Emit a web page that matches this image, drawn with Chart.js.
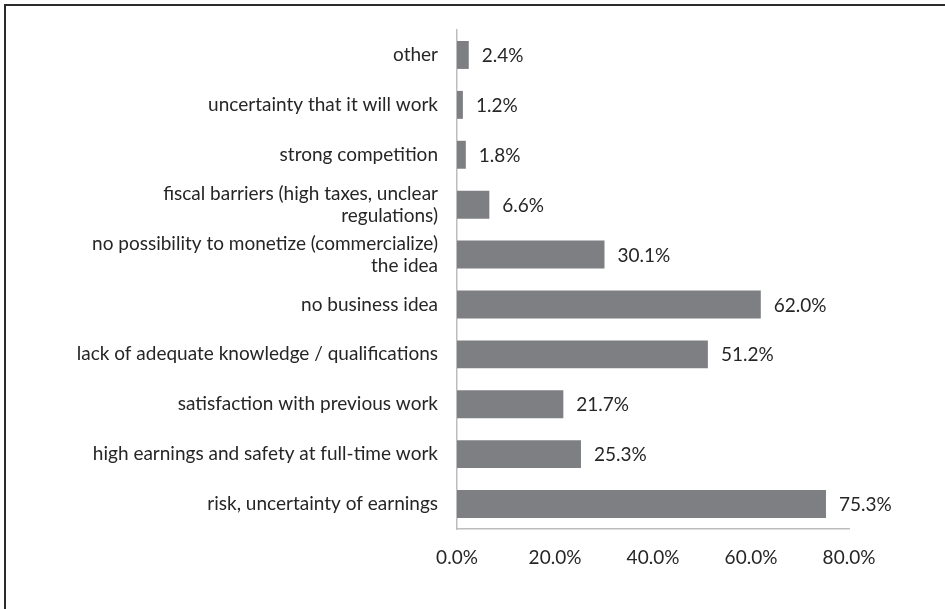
<!DOCTYPE html>
<html>
<head>
<meta charset="utf-8">
<script src="https://cdn.jsdelivr.net/npm/chart.js@4"></script>
<style>
    html, body { margin: 0; padding: 0; background: #fff; }
    #wrap { position: relative; width: 945px; height: 609px; }
    #frame {
        position: absolute; left: 4px; top: 4px; right: 0; bottom: 0;
        border-top: 2px solid #2b2b2b; border-left: 2px solid #2b2b2b;
    }
    #reasonsChart { position: absolute; left: 0; top: 0; }
</style>
</head>
<body>
<div id="wrap">
    <div id="frame"></div>
    <canvas id="reasonsChart" width="945" height="609"></canvas>
</div>
<script>
// Reasons for not starting a business (share of respondents, %)
const reasons = [
    'other',
    'uncertainty that it will work',
    'strong competition',
    ['fiscal barriers (high taxes, unclear', 'regulations)'],
    ['no possibility to monetize (commercialize)', 'the idea'],
    'no business idea',
    'lack of adequate knowledge / qualifications',
    'satisfaction with previous work',
    'high earnings and safety at full-time work',
    'risk, uncertainty of earnings'
];
const shares = [2.4, 1.2, 1.8, 6.6, 30.1, 62.0, 51.2, 21.7, 25.3, 75.3];
const xTicks = [0, 20, 40, 60, 80];

const FONT = 'Lato, "Open Sans", sans-serif';
const TEXT = '#262626';

// writes the percentage just past the end of each bar
const valueLabels = {
    id: 'valueLabels',
    afterDatasetsDraw(chart) {
        const { ctx } = chart;
        const meta = chart.getDatasetMeta(0);
        ctx.save();
        ctx.font = '19px ' + FONT;
        ctx.fillStyle = TEXT;
        ctx.textAlign = 'left';
        ctx.textBaseline = 'middle';
        meta.data.forEach((bar, i) => {
            ctx.fillText(shares[i].toFixed(1) + '%', bar.x + 13, bar.y + 1);
        });
        ctx.restore();
    }
};

function initReasonsChart() {
    const ctx = document.getElementById('reasonsChart');
    if (!ctx) return;

    new Chart(ctx.getContext('2d'), {
        type: 'bar',
        data: {
            labels: reasons,
            datasets: [{
                data: shares,
                backgroundColor: '#7e7f82',
                borderWidth: 0,
                barPercentage: 0.56,
                categoryPercentage: 1.0
            }]
        },
        options: {
            indexAxis: 'y',
            responsive: false,
            animation: false,
            layout: { padding: { top: 29, right: 96, bottom: 0, left: 0 } },
            plugins: {
                legend: { display: false },
                tooltip: { enabled: false }
            },
            scales: {
                x: {
                    min: 0,
                    max: 80,
                    afterBuildTicks: (scale) => {
                        scale.ticks = xTicks.map(v => ({ value: v }));
                    },
                    afterFit: (scale) => { scale.height = 80; },
                    grid: { display: false, drawTicks: false },
                    border: { display: true, color: '#bdbdbd', width: 1.5 },
                    ticks: {
                        padding: 17,
                        color: TEXT,
                        font: { family: FONT, size: 19 },
                        maxRotation: 0,
                        callback: (v) => v.toFixed(1) + '%'
                    }
                },
                y: {
                    afterFit: (scale) => { scale.width = 457; },
                    grid: { display: false, drawTicks: false },
                    border: { display: true, color: '#bdbdbd', width: 1.5 },
                    ticks: {
                        padding: 19,
                        color: TEXT,
                        font: { family: FONT, size: 19, lineHeight: 1.16 }
                    }
                }
            }
        },
        plugins: [valueLabels]
    });
}

document.addEventListener('DOMContentLoaded', initReasonsChart);
</script>
</body>
</html>
